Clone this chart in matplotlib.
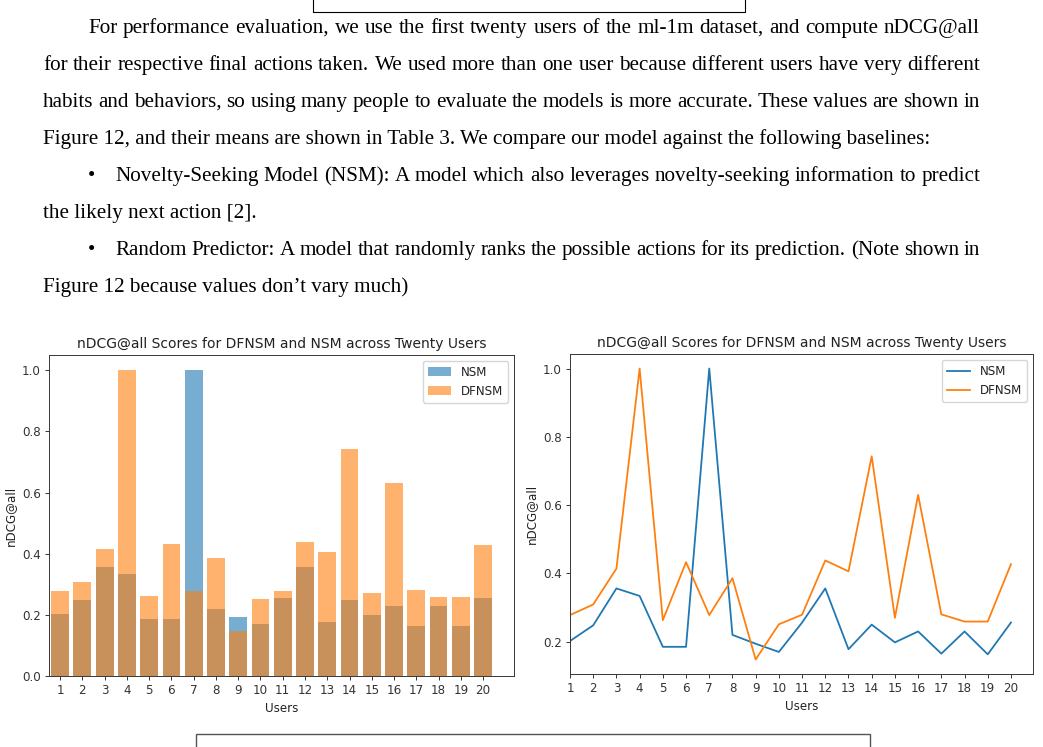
import matplotlib
matplotlib.use("Agg")
import matplotlib.pyplot as plt
from matplotlib.patches import Rectangle
import numpy as np

W, H = 1043, 747

users = np.arange(1, 21)
nsm = [0.202, 0.248, 0.356, 0.334, 0.185, 0.185, 1.0, 0.220, 0.194, 0.170,
       0.256, 0.356, 0.178, 0.250, 0.198, 0.230, 0.165, 0.230, 0.163, 0.256]
dfnsm = [0.278, 0.309, 0.414, 1.0, 0.263, 0.433, 0.278, 0.386, 0.148, 0.251,
         0.279, 0.438, 0.406, 0.743, 0.270, 0.630, 0.280, 0.259, 0.259, 0.427]

title = "nDCG@all Scores for DFNSM and NSM across Twenty Users"

# page text: (text, left px, justified?)
para_lines = [
    ("For performance evaluation, we use the first twenty users of the ml-1m dataset, and compute nDCG@all", 88, True),
    ("for their respective final actions taken. We used more than one user because different users have very different", 43, True),
    ("habits and behaviors, so using many people to evaluate the models is more accurate. These values are shown in", 43, True),
    ("Figure 12, and their means are shown in Table 3. We compare our model against the following baselines:", 43, False),
    ("Novelty-Seeking Model (NSM): A model which also leverages novelty-seeking information to predict", 115, True),
    ("the likely next action [2].", 43, False),
    ("Random Predictor: A model that randomly ranks the possible actions for its prediction. (Note shown in", 115, True),
    ("Figure 12 because values don\u2019t vary much)", 43, False),
]
bullet_rows = [4, 6]

fig = plt.figure(figsize=(W / 100, H / 100), dpi=100)
renderer = fig.canvas.get_renderer()

RIGHT = 980
FS_TEXT = 15.2


def px(x, y):
    return x / W, 1 - y / H


for i, (line, left, justify) in enumerate(para_lines):
    base = 33 + 37 * i
    kw = dict(family="Liberation Serif", fontsize=FS_TEXT, va="baseline", ha="left")
    if i in bullet_rows:
        fig.text(*px(88, base), "\u2022", **kw)
    if not justify:
        fig.text(*px(left, base), line, **kw)
        continue
    words = line.split()
    objs = [fig.text(0, 0, w, **kw) for w in words]
    widths = [o.get_window_extent(renderer).width for o in objs]
    gap = (RIGHT - left - sum(widths)) / (len(words) - 1)
    x = left
    for o, w in zip(objs, widths):
        o.set_position(px(x, base))
        x += w + gap

# boxes from the page layout
fig.add_artist(Rectangle(px(313, 11.5), (745 - 313) / W, 20 / H,
                         transform=fig.transFigure, fill=False, ec="black", lw=0.8))
fig.add_artist(Rectangle(px(196, 760), (870 - 196) / W, 26 / H,
                         transform=fig.transFigure, fill=False, ec="#555555", lw=1.0))

sc = 0.86
plt.rcParams.update({
    "axes.linewidth": 0.8 * sc,
    "xtick.major.width": 0.8 * sc,
    "ytick.major.width": 0.8 * sc,
    "xtick.major.size": 3.5 * sc,
    "ytick.major.size": 3.5 * sc,
    "xtick.major.pad": 3.5 * sc,
    "ytick.major.pad": 3.5 * sc,
    "axes.labelpad": 4 * sc,
    "axes.titlepad": 6 * sc,
    "lines.linewidth": 1.5 * sc,
    "axes.edgecolor": "#333333",
    "xtick.color": "#333333",
    "ytick.color": "#333333",
    "text.color": "#222222",
    "axes.labelcolor": "#222222",
})


def style(ax):
    ax.set_xticks(users)
    ax.set_title(title, fontsize=10.0)
    ax.set_xlabel("Users", fontsize=10 * sc)
    ax.set_ylabel("nDCG@all", fontsize=10 * sc)
    ax.tick_params(labelsize=10 * sc)
    ax.legend(fontsize=10 * sc)


# bar chart
ax1 = fig.add_axes([49 / W, 1 - 676 / H, 465 / W, 321 / H])
ax1.bar(users, nsm, alpha=0.6, label="NSM")
ax1.bar(users, dfnsm, alpha=0.6, label="DFNSM")
ax1.set_xlim(left=0.5)
style(ax1)

# line chart
ax2 = fig.add_axes([570 / W, 1 - 674 / H, 463 / W, 320 / H])
ax2.plot(users, nsm, label="NSM")
ax2.plot(users, dfnsm, label="DFNSM")
ax2.set_xlim(left=1)
style(ax2)

fig.savefig("out.png", dpi=100)
